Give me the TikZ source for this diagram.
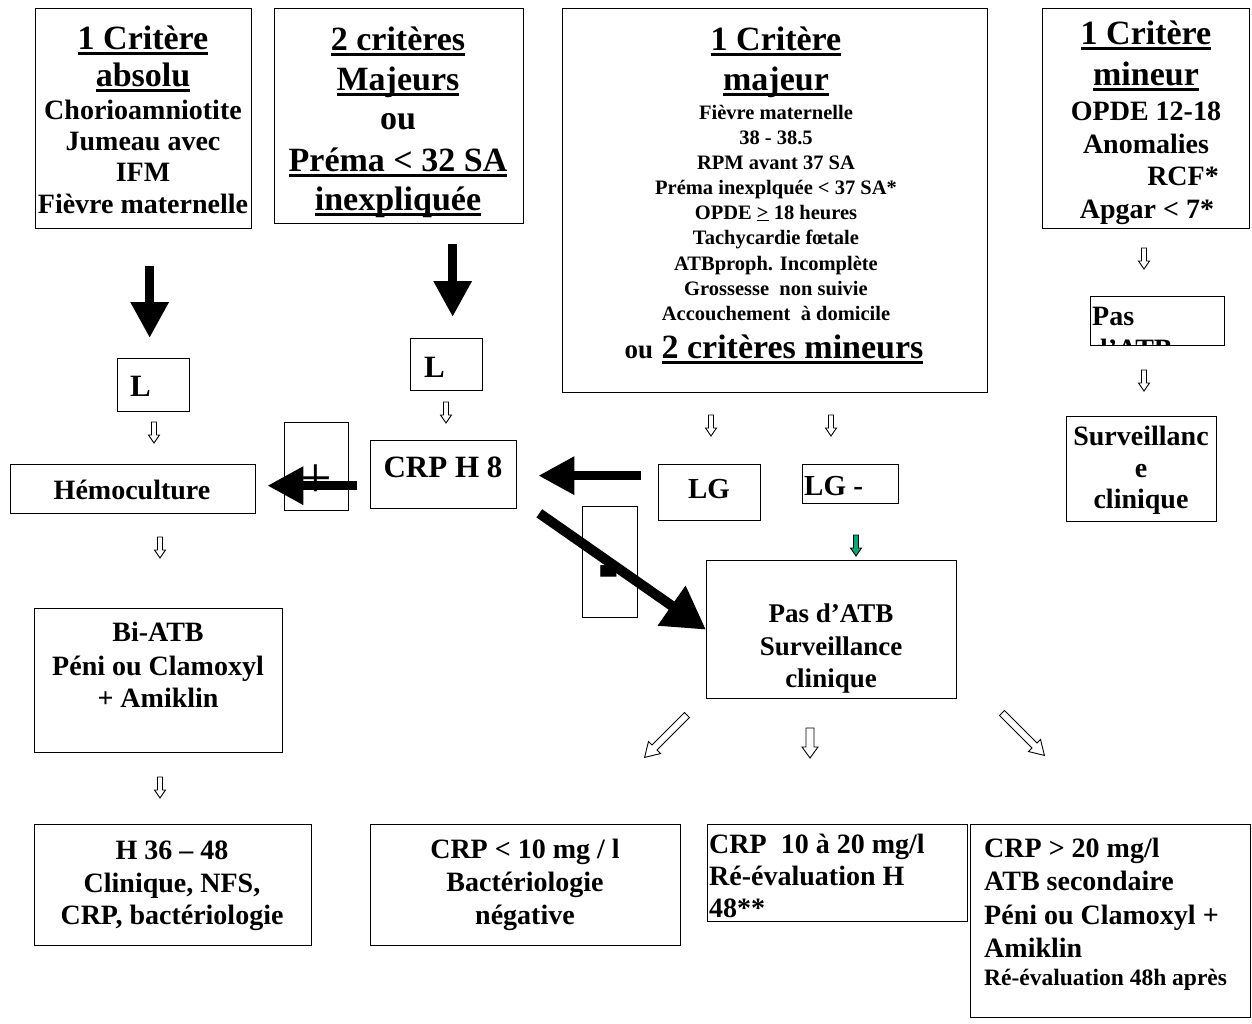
\documentclass[tikz,border=0pt]{standalone}
\usepackage{fontspec}
\setmainfont{Liberation Serif}
\usetikzlibrary{calc,arrows.meta}
\definecolor{arrgreen}{RGB}{0,170,120}
\newcommand\fsz[1]{\fontsize{#1}{#1}\selectfont\bfseries}
\newcommand\hul[1]{\setbox0=\hbox{#1}\rlap{\copy0}\rule[-5.5pt]{\wd0}{2.6pt}}
\tikzset{
 box/.style={draw, line width=1.3pt, inner sep=0pt, anchor=north west},
 t/.style={anchor=base, inner sep=0pt},
 tl/.style={anchor=base west, inner sep=0pt},
 tr/.style={anchor=base east, inner sep=0pt},
 hd/.style={font=\fsz{34}},
 bd/.style={font=\fsz{28}},
 sm/.style={font=\fsz{20.5}},
 bigarr/.style={line width=9pt, -{Triangle[length=36pt,width=36pt]}},
 diagarr/.style={line width=10pt, -{Triangle[length=42pt,width=46pt]}},
 warr/.pic={\draw[line width=0.9pt, fill=white, line join=miter] (-2.5,0) -- (2.5,0) -- (2.5,13) -- (5.5,13) -- (0,21) -- (-5.5,13) -- (-2.5,13) -- cycle;},
 warrg/.pic={\draw[line width=0.9pt, fill=arrgreen, line join=miter] (-2.5,0) -- (2.5,0) -- (2.5,13) -- (5.5,13) -- (0,21) -- (-5.5,13) -- (-2.5,13) -- cycle;},
 warrm/.pic={\draw[line width=0.9pt, fill=white, line join=miter] (-4,0) -- (4,0) -- (4,19) -- (8,19) -- (0,30) -- (-8,19) -- (-4,19) -- cycle;},
 warrl/.pic={\draw[line width=0.9pt, fill=white, line join=miter] (-3.5,0) -- (3.5,0) -- (3.5,46) -- (8.5,46) -- (0,60) -- (-8.5,46) -- (-3.5,46) -- cycle;},
}
\begin{document}
\begin{tikzpicture}[x=1pt,y=-1pt]
\fill[white] (0,0) rectangle (1252,1023);
\useasboundingbox (0,0) rectangle (1252,1023);

% ---------- boxes ----------
\node[box, minimum width=216pt, minimum height=220pt] (A) at (35,8) {};
\node[box, minimum width=249pt, minimum height=215pt] (B) at (274,8) {};
\node[box, minimum width=425pt, minimum height=384pt] (C) at (562,8) {};
\node[box, minimum width=207pt, minimum height=220pt] (D) at (1042,8) {};
\node[box, minimum width=72pt, minimum height=53pt] (L1) at (117,358) {};
\node[box, minimum width=72pt, minimum height=52pt] (L2) at (410,338) {};
\node[box, minimum width=245pt, minimum height=49pt] (hemo) at (10,464) {};
\node[box, minimum width=64pt, minimum height=88pt] (plus) at (284,422) {};
\node[box, minimum width=146pt, minimum height=68pt] (crp) at (370,440) {};
\node[box, minimum width=102pt, minimum height=56pt] (lg) at (658,464) {};
\node[box, minimum width=96pt, minimum height=39pt] (lgm) at (802,464) {};
\node[box, minimum width=55pt, minimum height=111pt] (minus) at (582,506) {};
\node[box, minimum width=250pt, minimum height=138pt] (pasc) at (706,560) {};
\node[box, minimum width=134pt, minimum height=49pt] (pasd) at (1090,296) {};
\node[box, minimum width=150pt, minimum height=105pt] (surv) at (1066,416) {};
\node[box, minimum width=248pt, minimum height=144pt] (bi) at (34,608) {};
\node[box, minimum width=277pt, minimum height=121pt] (h36) at (34,824) {};
\node[box, minimum width=310pt, minimum height=121pt] (c10) at (370,824) {};
\node[box, minimum width=260pt, minimum height=97pt] (c1020) at (707,824) {};
\node[box, minimum width=280pt, minimum height=193pt] (c20) at (970,824) {};

% ---------- texts: box A ----------
\node[t, hd] (a1) at (143,49) {\hul{1 Critère}};
\node[t, hd] (a2) at (143,86) {\hul{absolu}};
\node[t, bd] (a3) at (143,119) {Chorioamniotite};
\node[t, bd] (a4) at (143,150) {Jumeau avec};
\node[t, bd] (a5) at (143,181) {IFM};
\node[t, bd] (a6) at (143,213) {Fièvre maternelle};
% box B
\node[t, hd] (b1) at (398,50) {\hul{2 critères}};
\node[t, hd] (b2) at (398,90) {\hul{Majeurs}};
\node[t, hd] (b3) at (398,129) {ou};
\node[t, hd] (b4) at (398,171) {\hul{Préma < 32 SA}};
\node[t, hd] (b5) at (398,210) {\hul{inexpliquée}};
% box C
\node[t, hd] (c1) at (776,50) {\hul{1 Critère}};
\node[t, hd] (c2) at (776,90) {\hul{majeur}};
\node[t, sm] (c3) at (776,119) {Fièvre maternelle};
\node[t, sm] (c4) at (776,144) {38 - 38.5};
\node[t, sm] (c5) at (776,169) {RPM avant 37 SA};
\node[t, sm] (c6) at (776,194) {Préma inexplquée < 37 SA*};
\node[t, sm] (c7) at (776,219) {OPDE \underline{>} 18 heures};
\node[t, sm] (c8) at (776,244) {Tachycardie fœtale};
\node[t, sm] (c9) at (776,270) {ATBproph. Incomplète};
\node[t, sm] (c10t) at (776,295) {Grossesse\ \ non suivie};
\node[t, sm] (c11) at (776,320) {Accouchement\ \ à domicile};
\node[t, hd] (c12) at (774,358) {{\fsz{27}ou} \hul{2 critères mineurs}};
% box D
\node[t, hd] (d1) at (1146,44) {\hul{1 Critère}};
\node[t, hd] (d2) at (1146,85) {\hul{mineur}};
\node[t, bd] (d3) at (1146,120) {OPDE 12-18};
\node[t, bd] (d4) at (1146,153) {Anomalies};
\node[tr, bd] (d5) at (1219,185) {RCF*};
\node[t, bd] (d6) at (1147,218) {Apgar < 7*};

% small boxes
\node[tl, font=\fsz{31}] (l1t) at (130,396) {L};
\node[tl, font=\fsz{31}] (l2t) at (424,377) {L};
\node[t, bd] (hemot) at (132,499) {Hémoculture};
\node[t, inner sep=0pt, font=\fontsize{58}{58}\selectfont] (plust) at (316,497) {+};
\node[t, font=\fsz{62}] (minust) at (609,603) {\scalebox{1}[2.2]{-}};
\node[t, font=\fsz{31}] (crpt) at (443,477) {CRP H 8};
\node[t, font=\fsz{29}] (lgt) at (709,498) {LG};
\node[tl, font=\fsz{29}] (lgmt) at (804,495) {LG -};
\node[t, font=\fsz{27}] (pc1) at (831,622) {Pas d’ATB};
\node[t, font=\fsz{27}] (pc2) at (831,655) {Surveillance};
\node[t, font=\fsz{27}] (pc3) at (831,687) {clinique};
\begin{scope}
\clip (1090,296) rectangle (1224,345);
\node[tl, bd] (pd1) at (1092,325) {Pas};
\node[tl, bd] (pd2) at (1092,358) {d’ATB};
\end{scope}
\node[t, bd] (s1) at (1141,445) {Surveillanc};
\node[t, bd] (s2) at (1141,477) {e};
\node[t, bd] (s3) at (1141,508) {clinique};
\node[t, bd] (bi1) at (158,641) {Bi-ATB};
\node[t, bd] (bi2) at (158,675) {Péni ou Clamoxyl};
\node[t, bd] (bi3) at (158,707) {+ Amiklin};
% bottom row
\node[t, bd] (h1) at (172,859) {H 36 – 48};
\node[t, bd] (h2) at (172,892) {Clinique, NFS,};
\node[t, bd] (h3) at (172,924) {CRP, bactériologie};
\node[t, bd] (k1) at (525,858) {CRP < 10 mg / l};
\node[t, bd] (k2) at (525,891) {Bactériologie};
\node[t, bd] (k3) at (525,924) {négative};
\node[tl, bd] (m1) at (709,853) {CRP\ \ 10 à 20 mg/l};
\node[tl, bd] (m2) at (709,885) {Ré-évaluation H};
\node[tl, bd] (m3) at (709,917) {48**};
\node[tl, bd] (n1) at (984,857) {CRP > 20 mg/l};
\node[tl, bd] (n2) at (984,890) {ATB secondaire};
\node[tl, bd] (n3) at (984,924) {Péni ou Clamoxyl +};
\node[tl, bd] (n4) at (984,957) {Amiklin};
\node[tl, font=\fsz{23.5}] (n5) at (984,985) {Ré-évaluation 48h après};

% ---------- big black arrows ----------
\draw[bigarr] ($(A.south)+(6,37)$) -- ($(L1.north)+(-4,-20)$);
\draw[bigarr] ($(B.south)+(53.5,20)$) -- ($(L2.north)+(6,-21)$);
\draw[bigarr] ($(lg.west)+(-17,-17)$) -- ($(crp.east)+(21,1)$);
\draw[bigarr] ($(crp.west)+(-13,11)$) -- ($(hemo.east)+(11,-3.5)$);
\draw[diagarr] ($(crp.south east)+(22,4)$) -- (pasc.west);

% ---------- small outline arrows ----------
\pic at (154,422) {warr};
\pic at (446,402) {warr};
\pic at (711,415) {warr};
\pic at (831,415) {warr};
\pic at (1144,248) {warr};
\pic at (1144,370) {warr};
\pic at (160,537) {warr};
\pic at (160,777) {warr};
\pic at (856,535) {warrg};
\pic at (810,728) {warrm};
\pic[rotate=-45] at (687,715) {warrl};
\pic[rotate=45] at (1002,713) {warrl};
\end{tikzpicture}
\end{document}
